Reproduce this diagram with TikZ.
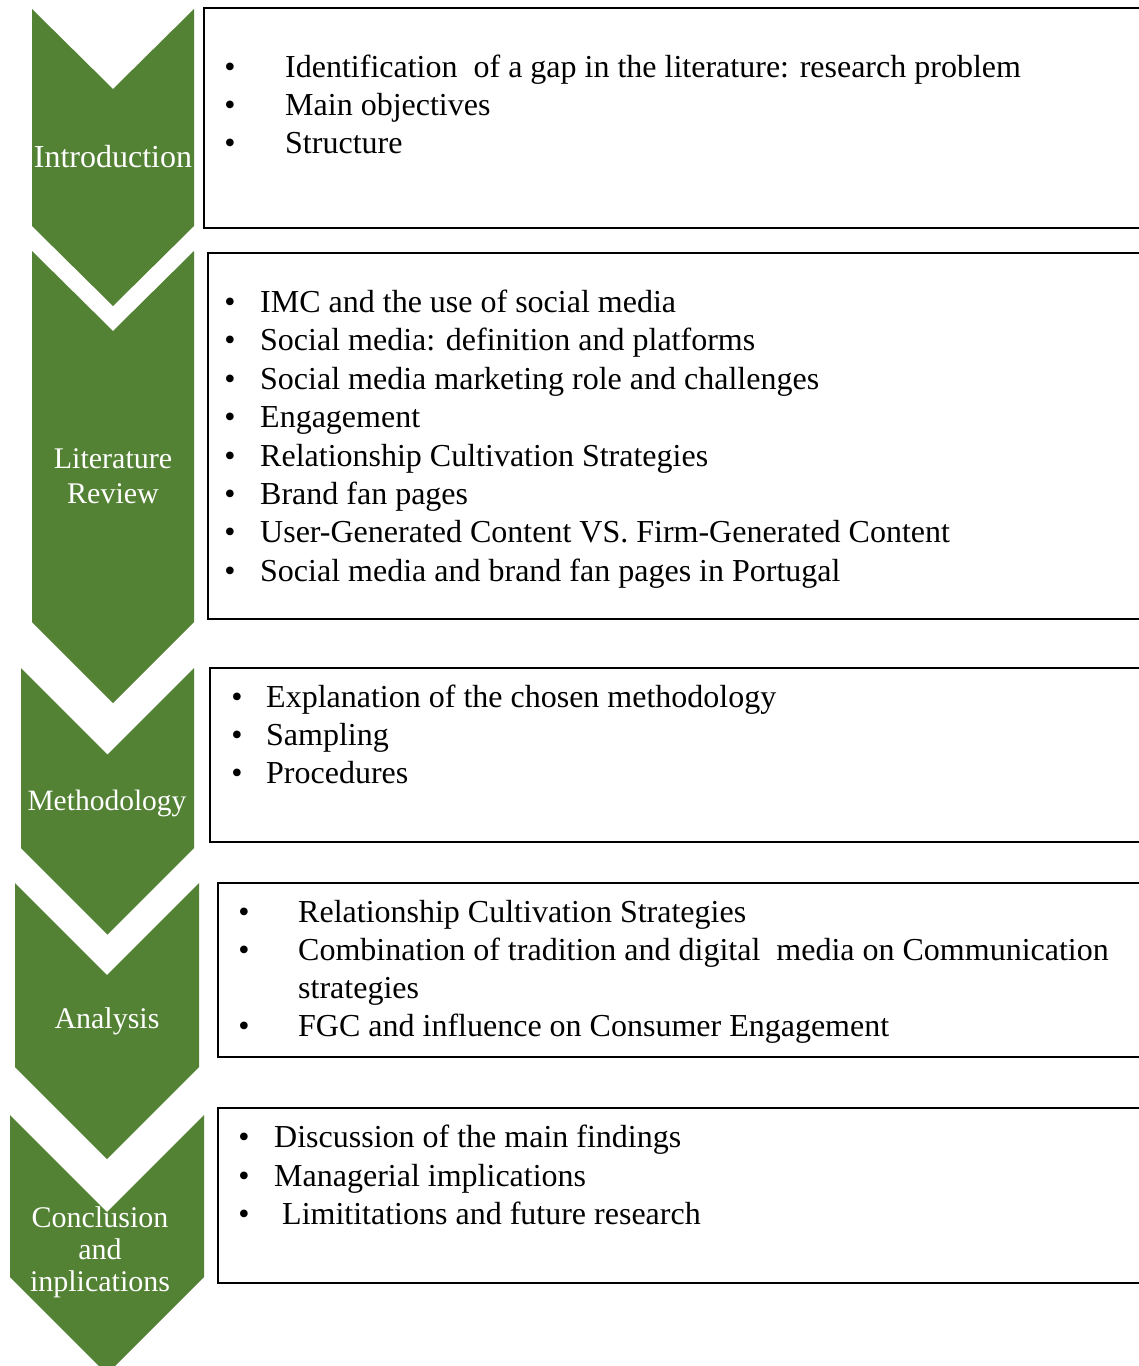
\documentclass[tikz,border=0pt]{standalone}
\usepackage{fontspec}
\setmainfont{Liberation Serif}
\definecolor{stagegreen}{RGB}{84,130,53}

\begin{document}
\begin{tikzpicture}[x=1pt,y=-1pt,
  chev/.style={fill=stagegreen,draw=none},
  stagelabel/.style={text=white,align=center,inner sep=0pt,font=\fontsize{30}{35}\selectfont},
  frame/.style={draw=black,line width=2.4pt},
  item/.style={anchor=base west,inner sep=0pt,font=\fontsize{32}{38}\selectfont},
  dot/.style={anchor=base,inner sep=0pt,font=\fontsize{32}{38}\selectfont}]

\useasboundingbox (0,0) rectangle (1139,1366);
\clip (0,0) rectangle (1139,1366);

% ---- stage chevrons ----
\path[chev] (32,9) -- (113,89) -- (194,9) -- (194,226) -- (113,306) -- (32,226) -- cycle;
\path[chev] (32,251) -- (113,331) -- (194,251) -- (194,622) -- (113,703) -- (32,622) -- cycle;
\path[chev] (21,668) -- (107.5,754.5) -- (194,668) -- (194,848) -- (107.5,934.5) -- (21,848) -- cycle;
\path[chev] (15,883) -- (107,975) -- (199,883) -- (199,1067) -- (107,1159) -- (15,1067) -- cycle;
\path[chev] (10,1115) -- (107,1212) -- (204,1115) -- (204,1277) -- (107,1374) -- (10,1277) -- cycle;

% ---- stage labels ----
\node[stagelabel,font=\fontsize{32}{35}\selectfont] (lintro) at (113,157) {Introduction};
\node[stagelabel] (llit) at (113,476) {Literature\\Review};
\node[stagelabel,font=\fontsize{29.5}{35}\selectfont] (lmeth) at (107,803) {Methodology};
\node[stagelabel] (lana) at (107,1021) {Analysis};
\node[stagelabel,font=\fontsize{30}{32}\selectfont] (lconc) at (100,1252) {Conclusion\\and\\inplications};

% ---- content frames ----
\draw[frame] (204,8) rectangle (1160,228);
\draw[frame] (208,253) rectangle (1160,619);
\draw[frame] (210,668) rectangle (1160,842);
\draw[frame] (218,883) rectangle (1160,1057);
\draw[frame] (218,1108) rectangle (1160,1283);

% ---- Introduction items ----
\foreach \y/\t [count=\i] in {77/{Identification\ \ of a gap in the literature: research problem},
                             115/{Main objectives},
                             153/{Structure}} {
  \node[dot] (ia\i) at (230,\y) {•};
  \node[item] (it\i) at (285,\y) {\t};
}

% ---- Literature Review items ----
\foreach \y/\t [count=\i] in {312.5/{IMC and the use of social media},
                             350.9/{Social media: definition and platforms},
                             389.3/{Social media marketing role and challenges},
                             427.7/{Engagement},
                             466.1/{Relationship Cultivation Strategies},
                             504.5/{Brand fan pages},
                             542.9/{User-Generated Content VS. Firm-Generated Content},
                             581.3/{Social media and brand fan pages in Portugal}} {
  \node[dot] (la\i) at (230,\y) {•};
  \node[item] (lt\i) at (260,\y) {\t};
}

% ---- Methodology items ----
\foreach \y/\t [count=\i] in {707.5/{Explanation of the chosen methodology},
                             745.5/{Sampling},
                             783.5/{Procedures}} {
  \node[dot] (ma\i) at (237,\y) {•};
  \node[item] (mt\i) at (266,\y) {\t};
}

% ---- Analysis items ----
\node[dot] (aa1) at (244,922) {•};
\node[item] (at1) at (298,922) {Relationship Cultivation Strategies};
\node[dot] (aa2) at (244,960) {•};
\node[item] (at2) at (298,960) {Combination of tradition and digital\ \ media on Communication};
\node[item] (at3) at (298,998.5) {strategies};
\node[dot] (aa4) at (244,1036.5) {•};
\node[item] (at4) at (298,1036.5) {FGC and influence on Consumer Engagement};

% ---- Conclusion items ----
\node[dot] (ca1) at (244,1147) {•};
\node[item] (ct1) at (274,1147) {Discussion of the main findings};
\node[dot] (ca2) at (244,1186) {•};
\node[item] (ct2) at (274,1186) {Managerial implications};
\node[dot] (ca3) at (244,1224.5) {•};
\node[item] (ct3) at (282,1224.5) {Limititations and future research};

\end{tikzpicture}
\end{document}
